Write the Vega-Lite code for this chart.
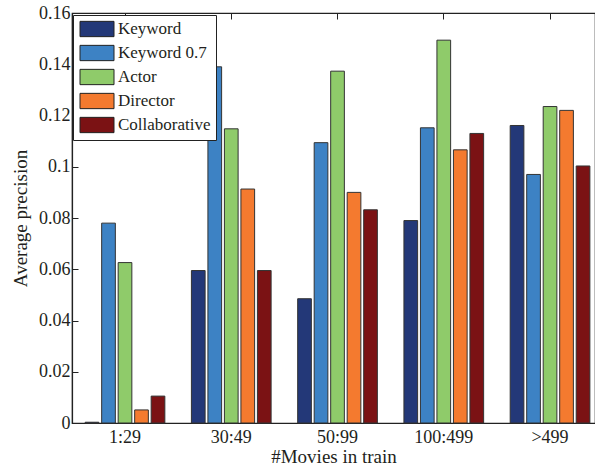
{
  "$schema": "https://vega.github.io/schema/vega-lite/v6.json",
  "autosize": {"type": "none"},
  "padding": {"left": 72, "top": 13, "right": 0, "bottom": 45},
  "width": 523,
  "height": 410,
  "background": "white",
  "config": {
    "font": "Liberation Serif",
    "view": {"stroke": "#222", "strokeWidth": 1.2},
    "axis": {
      "labelFont": "Liberation Serif",
      "titleFont": "Liberation Serif",
      "labelColor": "#231f20",
      "titleColor": "#231f20",
      "labelFontSize": 18,
      "titleFontSize": 19,
      "titleFontWeight": "normal",
      "domainColor": "#222",
      "domainWidth": 1.2,
      "tickColor": "#222",
      "tickSize": -6,
      "grid": false
    },
    "legend": {
      "labelFont": "Liberation Serif",
      "labelFontSize": 18,
      "labelColor": "#231f20"
    }
  },
  "data": {
    "values": [
      {"group": "1:29", "method": "Keyword", "value": 0.0003},
      {"group": "1:29", "method": "Keyword 0.7", "value": 0.078},
      {"group": "1:29", "method": "Actor", "value": 0.0626},
      {"group": "1:29", "method": "Director", "value": 0.0051},
      {"group": "1:29", "method": "Collaborative", "value": 0.0105},
      {"group": "30:49", "method": "Keyword", "value": 0.0595},
      {"group": "30:49", "method": "Keyword 0.7", "value": 0.139},
      {"group": "30:49", "method": "Actor", "value": 0.1148},
      {"group": "30:49", "method": "Director", "value": 0.0913},
      {"group": "30:49", "method": "Collaborative", "value": 0.0595},
      {"group": "50:99", "method": "Keyword", "value": 0.0485},
      {"group": "50:99", "method": "Keyword 0.7", "value": 0.1094},
      {"group": "50:99", "method": "Actor", "value": 0.1373},
      {"group": "50:99", "method": "Director", "value": 0.0900},
      {"group": "50:99", "method": "Collaborative", "value": 0.0832},
      {"group": "100:499", "method": "Keyword", "value": 0.079},
      {"group": "100:499", "method": "Keyword 0.7", "value": 0.1152},
      {"group": "100:499", "method": "Actor", "value": 0.1494},
      {"group": "100:499", "method": "Director", "value": 0.1066},
      {"group": "100:499", "method": "Collaborative", "value": 0.113},
      {"group": ">499", "method": "Keyword", "value": 0.1161},
      {"group": ">499", "method": "Keyword 0.7", "value": 0.097},
      {"group": ">499", "method": "Actor", "value": 0.1235},
      {"group": ">499", "method": "Director", "value": 0.122},
      {"group": ">499", "method": "Collaborative", "value": 0.1003}
    ]
  },
  "resolve": {"axis": {"x": "independent"}},
  "layer": [
    {
      "mark": {"type": "bar", "stroke": "#333", "strokeWidth": 1},
      "encoding": {
        "x": {
          "field": "group",
          "type": "nominal",
          "sort": ["1:29", "30:49", "50:99", "100:499", ">499"],
          "scale": {"paddingInner": 0.25, "paddingOuter": 0.086, "align": 0.72},
          "axis": {"title": "#Movies in train", "labelAngle": 0, "labelPadding": 11, "titlePadding": 1}
        },
        "xOffset": {
          "field": "method",
          "type": "nominal",
          "sort": ["Keyword", "Keyword 0.7", "Actor", "Director", "Collaborative"],
          "scale": {"paddingInner": 0.17, "paddingOuter": 0}
        },
        "y": {
          "field": "value",
          "type": "quantitative",
          "scale": {"domain": [0, 0.16], "nice": false},
          "axis": {"title": "Average precision", "values": [0, 0.02, 0.04, 0.06, 0.08, 0.1, 0.12, 0.14, 0.16], "format": "~g", "labelPadding": 8, "titlePadding": 8}
        },
        "color": {
          "field": "method",
          "type": "nominal",
          "sort": ["Keyword", "Keyword 0.7", "Actor", "Director", "Collaborative"],
          "scale": {
            "domain": ["Keyword", "Keyword 0.7", "Actor", "Director", "Collaborative"],
            "range": ["#233878", "#3d82c4", "#8fcb6a", "#f47a2f", "#7b1214"]
          },
          "legend": {
            "title": null,
            "orient": "none",
            "legendX": 1,
            "legendY": 2,
            "strokeColor": "#222",
            "fillColor": "white",
            "padding": 5,
            "rowPadding": 4,
            "labelOffset": 12,
            "symbolOffset": 10,
            "symbolType": "M-2,-0.9H2V0.9H-2Z",
            "symbolSize": 289,
            "symbolStrokeColor": "#222",
            "symbolStrokeWidth": 1,
            "symbolOpacity": 1,
            "labelFontSize": 17
          }
        }
      }
    },
    {
      "mark": {"type": "bar", "opacity": 0},
      "encoding": {
        "x": {
          "field": "group",
          "type": "nominal",
          "sort": ["1:29", "30:49", "50:99", "100:499", ">499"],
          "axis": {"orient": "top", "labels": false, "domain": false, "title": null}
        },
        "y": {"field": "value", "type": "quantitative"}
      }
    }
  ]
}
